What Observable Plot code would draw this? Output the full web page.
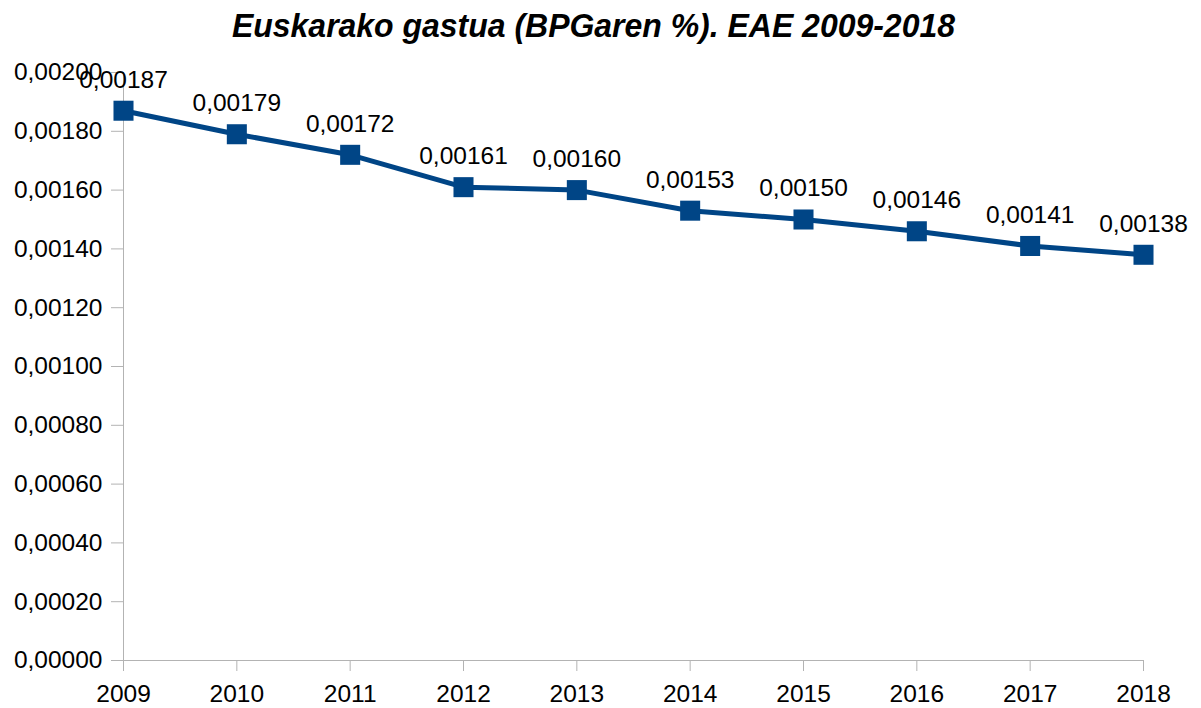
<!DOCTYPE html>
<html>
<head>
<meta charset="utf-8">
<script src="https://cdn.jsdelivr.net/npm/d3@7"></script>
<script src="https://cdn.jsdelivr.net/npm/@observablehq/plot@0.6"></script>
<style>
  html, body { margin: 0; padding: 0; background: #fff; }
  #wrap { position: relative; width: 1201px; height: 708px; overflow: hidden; }
  #title { position: absolute; left: -7px; top: 0; width: 1201px; height: 50px; text-align: center;
    font-family: "Liberation Sans", Arial, sans-serif; font-weight: bold; font-style: italic;
    font-size: 34px; line-height: 50px; color: #000; transform: scaleX(0.94); transform-origin: 600px 25px; }
  #chart { position: absolute; left: 0; top: 50px; }
</style>
</head>
<body>
<div id="wrap">
  <div id="title">Euskarako gastua (BPGaren %). EAE 2009-2018</div>
  <div id="chart"></div>
</div>
<script>
const years = [2009, 2010, 2011, 2012, 2013, 2014, 2015, 2016, 2017, 2018];
const values = [0.00187, 0.00179, 0.00172, 0.00161, 0.00160, 0.00153, 0.00150, 0.00146, 0.00141, 0.00138];
const yTicks = [0, 0.0002, 0.0004, 0.0006, 0.0008, 0.001, 0.0012, 0.0014, 0.0016, 0.0018, 0.002];

const data = years.map((y, i) => ({year: y, value: values[i]}));
const fmt = v => v.toFixed(5).replace(".", ",");
const blue = "#004586";
const grey = "#b3b3b3";

const chart = Plot.plot({
  width: 1201,
  height: 658,
  marginTop: 22,
  marginBottom: 48,
  marginLeft: 123,
  marginRight: 58,
  style: {fontFamily: "'Liberation Sans', Arial, sans-serif", fontSize: "24.5px", color: "#000", background: "#fff"},
  x: {type: "linear", domain: [2009, 2018]},
  y: {domain: [0, 0.002]},
  marks: [
    Plot.axisY({ticks: yTicks, tickFormat: fmt, tickSize: 12, tickPadding: 9, stroke: grey, fill: "#000", fontSize: 24.5, label: null}),
    Plot.axisX({ticks: years, tickFormat: d => String(d), tickSize: 11, tickPadding: 13, stroke: grey, fill: "#000", fontSize: 24.5, label: null}),
    Plot.ruleX([2009], {y1: 0, y2: 0.002, stroke: grey, strokeWidth: 1}),
    Plot.ruleY([0], {x1: 2009, x2: 2018, stroke: grey, strokeWidth: 1}),
    Plot.line(data, {x: "year", y: "value", stroke: blue, strokeWidth: 5}),
    Plot.dot(data, {x: "year", y: "value", symbol: "square", r: 11.3, fill: blue, stroke: "none"}),
    Plot.text(data, {x: "year", y: "value", text: d => fmt(d.value), dy: -31, fontSize: 24.5, fill: "#000"})
  ]
});
document.getElementById("chart").appendChild(chart);
</script>
</body>
</html>
